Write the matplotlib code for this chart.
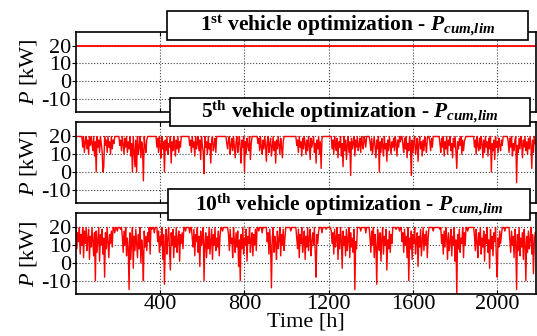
import matplotlib.pyplot as plt
import numpy as np
from matplotlib.patches import Rectangle

plt.rcParams['font.family'] = 'Liberation Serif'
plt.rcParams['mathtext.fontset'] = 'custom'
plt.rcParams['mathtext.rm'] = 'Liberation Serif'
plt.rcParams['mathtext.it'] = 'Liberation Serif:italic'
plt.rcParams['mathtext.bf'] = 'Liberation Serif:bold'
plt.rcParams['mathtext.bfit'] = 'Liberation Serif:bold:italic'
plt.rcParams['axes.unicode_minus'] = False

#%% data: P_cum,lim [kW], sampled every 4 h (one row = one week)
hours = np.arange(0, 2184, 4)

p_1st = 20

p_5th = [
    20,20,20,20,20,20, 20,20,14,20,11,17, 20,13,18,10,20,15, 20,16,12,20,9,17, 0,20,14,18,11,20, 16,12,0,3,20,15, 18,11,20,14,17,10,
    20,13,18,16,20,20, 20,20,20,20,15,18, 12,20,16,10,19,14, 20,11,17,13,20,9, 16,0,20,12,3,18, 0,20,10,14,20,8, 17,13,-5,20,15,11,
    18,20,20,20,20,20, 20,20,20,20,20,20, 14,19,11,20,15,8, 20,13,17,0,18,12, 20,10,16,14,20,5, 17,12,20,15,9,18, 13,20,11,17,14,20,
    20,20,20,20,20,20, 20,20,20,15,18,11, 20,14,17,9,20,13, 16,20,12,18,7,20, 15,11,-1,20,14,17, 10,20,13,16,5,18, 20,12,15,19,11,20,
    20,20,20,20,20,20, 20,20,20,20,20,16, 13,18,20,10,15,19, 12,20,14,8,17,20, 11,16,20,13,5,18, 14,20,0,17,10,19, 15,12,20,7,16,20,
    20,20,20,20,20,20, 16,19,12,20,14,10, 18,13,20,15,6,17, 20,11,16,19,9,14, 20,12,17,5,18,13, 20,15,10,19,14,8, 17,20,20,20,20,20,
    20,20,20,20,20,20, 20,20,20,20,15,18, 11,20,14,17,9,19, 13,20,16,10,18,12, 20,15,7,19,14,17, 20,11,16,5,18,13, 20,10,17,2,19,20,
    20,20,20,20,20,20, 20,20,20,20,13,18, 10,20,15,12,19,8, 17,14,20,9,16,3, 20,12,18,7,15,20, 11,17,-2,19,13,16, 20,9,18,14,20,12,
    15,19,11,20,16,13, 20,18,14,20,20,20, 20,17,12,19,10,16, 20,14,8,18,13,20, 0,17,11,19,15,9, 20,13,16,6,18,12, 20,15,10,17,14,19,
    12,20,16,9,18,14, 20,17,20,20,15,11, 19,13,20,8,16,12, 20,15,-2,18,11,17, 20,10,14,19,6,16, 20,13,17,9,18,12, 20,16,11,19,20,20,
    17,12,19,14,20,20, 20,20,20,20,20,20, 16,11,19,14,20,9, 17,13,20,10,18,15, 20,12,16,8,19,14, 20,11,2,17,13,19, 15,20,10,18,12,17,
    19,20,20,20,20,20, 20,20,20,20,20,14, 18,10,20,15,12,19, 13,20,16,8,18,11, 20,14,17,9,19,13, 20,0,16,12,18,7, 20,14,17,11,19,15,
    12,18,15,20,20,20, 20,20,20,17,11,19, 14,20,9,16,12,18, 20,-6,15,11,19,13, 20,16,8,18,14,20, 12,17,10,19,13,20, 15,2,18,11,20,16,
]

p_10th = [
    20,8,17,12,20,5, 16,10,20,3,18,11, 20,7,14,19,2,15, 9,20,12,4,17,-10, 18,6,13,20,1,16, 10,19,5,14,-8,17, 8,20,12,3,16,11,
    18,9,20,20,17,20, 20,18,20,20,20,19, 20,15,6,18,10,20, 4,14,9,-15,17,2, 12,20,-3,15,7,19, 11,3,16,8,20,0, 13,6,-10,18,9,15,
    7,17,12,20,5,20, 19,20,20,17,20,20, 20,12,18,6,15,10, 20,2,16,-12,11,19, 5,14,20,8,-4,17, 10,19,3,15,9,20, 6,13,18,1,16,11,
    17,8,20,20,18,20, 20,20,20,17,20,20, 14,9,19,4,16,12, 20,6,15,-2,18,10, 13,20,-10,11,17,3, 15,8,20,5,12,19, 2,16,10,20,7,14,
    9,18,4,15,20,20, 18,20,20,20,20,20, 20,16,7,19,11,14, 3,20,12,6,17,9, 18,-2,13,-10,16,8, 20,5,14,10,19,1, 15,11,20,6,13,17,
    4,16,10,19,7,20, 20,18,20,20,20,17, 20,20,20,20,20,12, 17,5,19,9,-14,14, 20,6,15,11,2,18, 8,13,20,4,16,10, 19,7,14,20,20,20,
    20,20,20,18,20,20, 20,20,20,20,14,8, 19,3,16,11,20,6, 13,18,2,15,9,20, 7,14,19,4,12,17, 10,20,5,-8,16,11, 18,20,20,20,17,20,
    20,20,20,19,20,20, 20,20,20,18,11,17, 5,19,9,14,20,2, 16,8,20,12,-3,18, 10,15,4,19,7,13, 20,3,17,9,14,6, 19,-15,12,8,20,20,
    20,20,18,20,20,20, 20,20,17,20,20,20, 20,14,6,18,10,20, 3,16,9,-12,19,12, 7,17,1,14,20,5, 15,10,19,-4,13,8, 18,6,16,11,20,20,
    20,20,19,20,20,20, 18,20,20,12,17,6, 19,10,15,3,20,-10, 14,8,18,2,16,11, 20,5,13,17,-2,15, 9,19,4,12,20,7, 16,10,18,3,14,20,
    20,20,20,20,18,20, 20,20,20,20,20,20, 19,20,11,16,5,18, 9,20,14,2,17,7, 12,19,4,15,10,20, 1,13,-18,16,8,19, 6,14,11,20,3,17,
    10,20,20,18,20,20, 20,20,20,20,20,15, 7,19,12,3,17,10, 20,5,14,9,18,1, 16,11,20,6,13,-3, 19,8,15,4,17,12, 20,2,-8,14,9,18,
    11,16,20,20,20,18, 20,20,20,20,20,13, 6,18,10,15,3,19, 12,-15,16,7,20,4, 14,9,17,2,19,11, -10,15,6,18,8,13, 20,5,16,-6,12,17,
]

titles = [r'1$^{\mathbf{st}}$ vehicle optimization - $\mathbfit{P}_{\mathbfit{cum{,}lim}}$',
          r'5$^{\mathbf{th}}$ vehicle optimization - $\mathbfit{P}_{\mathbfit{cum{,}lim}}$',
          r'10$^{\mathbf{th}}$ vehicle optimization - $\mathbfit{P}_{\mathbfit{cum{,}lim}}$']
series = [np.full(len(hours), p_1st), np.array(p_5th), np.array(p_10th)]

#%% figure
fig = plt.figure(figsize=(5.37, 3.36), dpi=100)

ax_rects = [[0.1415, 0.6667, 0.8566, 0.2390],
            [0.1415, 0.3958, 0.8566, 0.2402],
            [0.1415, 0.1250, 0.8566, 0.2402]]
box_rects = [[0.311, 0.881, 0.672, 0.087],
             [0.3166, 0.625, 0.670, 0.084],
             [0.312, 0.345, 0.675, 0.093]]

for i in range(3):
    ax = fig.add_axes(ax_rects[i])
    ax.plot(hours, series[i], color='red', lw=1.0 if i else 1.3)
    ax.set_xlim(0, 2184)
    ax.set_ylim(-17.5, 28)
    ax.set_xticks([400, 800, 1200, 1600, 2000])
    ax.set_yticks([-10, 0, 10, 20])
    ax.grid(True, ls=':', color='#444444', lw=0.8)
    ax.tick_params(axis='y', which='both', direction='out', length=3, pad=0.5,
                   labelsize=16, right=False)
    ax.tick_params(axis='x', direction='in', length=3, top=True, labelsize=16, pad=1)
    for s in ax.spines.values():
        s.set_linewidth(1.2)
    ax.set_ylabel(r'$P$ [kW]', fontsize=16, labelpad=2)
    if i < 2:
        ax.set_xticklabels([])
    else:
        ax.set_xlabel('Time [h]', fontsize=16, labelpad=-1)

    b = box_rects[i]
    fig.patches.append(Rectangle((b[0], b[1]), b[2], b[3], transform=fig.transFigure,
                                 fc='white', ec='black', lw=1.2, zorder=5))
    fig.text(b[0] + b[2] / 2, b[1] + b[3] / 2, titles[i], ha='center', va='center',
             fontsize=15.5, fontweight='bold', zorder=6)

plt.savefig('out.png', dpi=100)
